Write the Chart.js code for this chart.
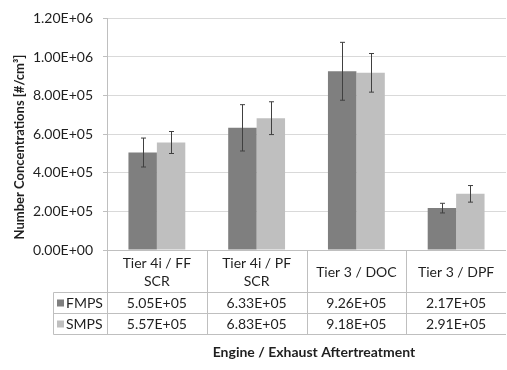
<!DOCTYPE html>
<html>
<head>
<meta charset="utf-8">
<title>Number Concentrations</title>
<script src="https://cdn.jsdelivr.net/npm/chart.js@4"></script>
<style>
  html, body { margin: 0; padding: 0; background: #fff; }
  canvas { display: block; }
</style>
</head>
<body>
<canvas id="chart" width="507" height="370"></canvas>
<script>
// categories and series
const categories = [["Tier 4i / FF", "SCR"], ["Tier 4i / PF", "SCR"], ["Tier 3 / DOC"], ["Tier 3 / DPF"]];
const fmps = [5.05e5, 6.33e5, 9.26e5, 2.17e5];
const smps = [5.57e5, 6.83e5, 9.18e5, 2.91e5];
// +/- error bar sizes
const fmpsErr = [0.75e5, 1.2e5, 1.5e5, 0.25e5];
const smpsErr = [0.57e5, 0.85e5, 1.0e5, 0.43e5];

const FONT = "Lato, 'Open Sans', sans-serif";
const TEXT = "#1f1f1f";
const LINE = "#bfbfbf";
const DARK = "#7f7f7f";
const LIGHT = "#bfbfbf";

// 505000 -> "5.05E+05"
function sci(v) {
  const [m, e] = v.toExponential(2).split("e");
  const n = parseInt(e, 10);
  return m + "E" + (n < 0 ? "-" : "+") + String(Math.abs(n)).padStart(2, "0");
}

const errorBars = {
  id: "errorBars",
  afterDatasetsDraw(chart) {
    const ctx = chart.ctx;
    const y = chart.scales.y;
    const errs = [fmpsErr, smpsErr];
    ctx.save();
    ctx.strokeStyle = "#404040";
    ctx.lineWidth = 1;
    chart.data.datasets.forEach((ds, di) => {
      chart.getDatasetMeta(di).data.forEach((bar, i) => {
        const x = Math.round(bar.x) + 0.5;
        const top = y.getPixelForValue(ds.data[i] + errs[di][i]);
        const bot = y.getPixelForValue(ds.data[i] - errs[di][i]);
        ctx.beginPath();
        ctx.moveTo(x, top); ctx.lineTo(x, bot);
        ctx.moveTo(x - 2.5, top); ctx.lineTo(x + 2.5, top);
        ctx.moveTo(x - 2.5, bot); ctx.lineTo(x + 2.5, bot);
        ctx.stroke();
      });
    });
    ctx.restore();
  }
};

// data table under the plot, plus axis titles
const dataTable = {
  id: "dataTable",
  afterDraw(chart) {
    const ctx = chart.ctx;
    const area = chart.chartArea;
    const xs = chart.scales.x;
    const base = Math.round(area.bottom) + 0.5;
    const row1 = base + 42, row2 = row1 + 21, row3 = row2 + 21;
    const legL = 53.5;
    const half = (xs.getPixelForValue(1) - xs.getPixelForValue(0)) / 2;

    ctx.save();
    ctx.strokeStyle = LINE;
    ctx.lineWidth = 1;
    ctx.beginPath();
    // category axis line with its tick at the left
    ctx.moveTo(area.left - 4, base); ctx.lineTo(area.right, base);
    [row1, row2, row3].forEach(r => { ctx.moveTo(legL, r); ctx.lineTo(area.right, r); });
    ctx.moveTo(legL, row1); ctx.lineTo(legL, row3);
    for (let i = 0; i < categories.length; i++) {
      const bx = Math.round(xs.getPixelForValue(i) - half) + 0.5;
      ctx.moveTo(bx, base); ctx.lineTo(bx, row3);
    }
    ctx.stroke();

    ctx.fillStyle = TEXT;
    ctx.font = "14px " + FONT;
    ctx.textAlign = "center";
    ctx.textBaseline = "middle";
    categories.forEach((lab, i) => {
      const cx = xs.getPixelForValue(i);
      if (lab.length === 2) {
        ctx.fillText(lab[0], cx, base + 13);
        ctx.fillText(lab[1], cx, base + 31);
      } else {
        ctx.fillText(lab[0], cx, base + 22);
      }
      ctx.fillText(sci(fmps[i]), cx, row1 + 11);
      ctx.fillText(sci(smps[i]), cx, row2 + 11);
    });

    // legend keys in the first column
    [[DARK, "FMPS", row1], [LIGHT, "SMPS", row2]].forEach(([c, name, r]) => {
      ctx.fillStyle = c;
      ctx.fillRect(57, r + 7, 7, 7);
      ctx.fillStyle = TEXT;
      ctx.textAlign = "left";
      ctx.fillText(name, 66, r + 11);
    });

    ctx.font = "bold 14px " + FONT;
    ctx.textAlign = "center";
    ctx.fillText("Engine / Exhaust Aftertreatment", 314, 352);

    ctx.font = "bold 13px " + FONT;
    ctx.translate(20, 147);
    ctx.rotate(-Math.PI / 2);
    ctx.fillText("Number Concentrations [#/cm\u00B3]", 0, 0);
    ctx.restore();
  }
};

new Chart(document.getElementById("chart"), {
  type: "bar",
  data: {
    labels: categories,
    datasets: [
      { label: "FMPS", data: fmps, backgroundColor: DARK },
      { label: "SMPS", data: smps, backgroundColor: LIGHT }
    ]
  },
  options: {
    responsive: false,
    animation: false,
    devicePixelRatio: 1,
    layout: { padding: { left: 0, right: 1, top: 15, bottom: 120 } },
    datasets: { bar: { categoryPercentage: 0.57, barPercentage: 1.0 } },
    plugins: { legend: { display: false }, tooltip: { enabled: false } },
    scales: {
      x: { display: false },
      y: {
        min: 0,
        max: 1.2e6,
        afterFit(scale) { scale.width = 107; },
        ticks: {
          stepSize: 2e5,
          padding: 10,
          color: TEXT,
          font: { family: FONT, size: 14 },
          callback: v => sci(v)
        },
        grid: { color: "#d9d9d9", tickColor: LINE, tickLength: 4 },
        border: { color: LINE }
      }
    }
  },
  plugins: [errorBars, dataTable]
});
</script>
</body>
</html>
